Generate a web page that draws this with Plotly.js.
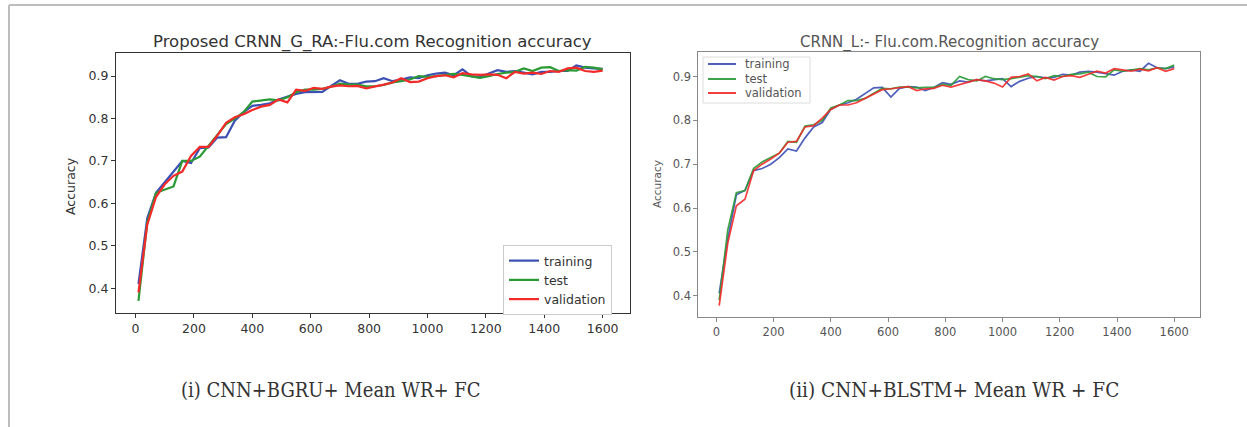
<!DOCTYPE html>
<html>
<head>
<meta charset="utf-8">
<script src="https://cdn.plot.ly/plotly-3.0.1.min.js"></script>
<style>html,body{margin:0;padding:0;background:#fff;}#chart{width:1247px;height:427px;}</style>
</head>
<body>
<div id="chart"></div>
<script>
// x positions (epochs)
const epochs = [10,40,70,100,130,160,190,220,250,280,310,340,370,400,430,460,490,520,550,580,610,640,670,700,730,760,790,820,850,880,910,940,970,1000,1030,1060,1090,1120,1150,1180,1210,1240,1270,1300,1330,1360,1390,1420,1450,1480,1510,1540,1570,1600];

// Left chart: Proposed CRNN_G_RA
const leftTraining = [0.41,0.565,0.625,0.65,0.675,0.70,0.695,0.73,0.732,0.755,0.756,0.795,0.815,0.83,0.832,0.836,0.845,0.852,0.858,0.862,0.862,0.863,0.877,0.89,0.882,0.882,0.887,0.888,0.895,0.888,0.892,0.897,0.895,0.902,0.906,0.908,0.902,0.916,0.90,0.897,0.906,0.914,0.91,0.912,0.908,0.904,0.91,0.91,0.912,0.912,0.925,0.92,0.918,0.917];
const leftTest = [0.37,0.555,0.625,0.632,0.64,0.70,0.70,0.71,0.735,0.76,0.787,0.80,0.815,0.84,0.843,0.845,0.843,0.85,0.862,0.868,0.868,0.87,0.875,0.882,0.88,0.88,0.876,0.876,0.879,0.885,0.888,0.892,0.90,0.898,0.90,0.902,0.905,0.903,0.90,0.896,0.90,0.905,0.908,0.91,0.918,0.912,0.92,0.921,0.912,0.914,0.913,0.922,0.92,0.916];
const leftValidation = [0.39,0.55,0.615,0.645,0.665,0.675,0.712,0.733,0.733,0.76,0.79,0.803,0.81,0.82,0.828,0.832,0.845,0.838,0.868,0.865,0.872,0.87,0.875,0.878,0.876,0.877,0.871,0.875,0.88,0.885,0.895,0.886,0.887,0.895,0.90,0.902,0.897,0.907,0.904,0.903,0.904,0.903,0.895,0.91,0.906,0.908,0.905,0.912,0.91,0.918,0.92,0.912,0.91,0.913];

// Right chart: CRNN_L
const rightTraining = [0.405,0.53,0.63,0.64,0.685,0.69,0.70,0.715,0.735,0.73,0.76,0.785,0.795,0.825,0.835,0.84,0.848,0.862,0.874,0.875,0.853,0.873,0.877,0.876,0.868,0.875,0.886,0.882,0.89,0.887,0.893,0.89,0.892,0.895,0.877,0.889,0.896,0.90,0.897,0.898,0.905,0.903,0.91,0.912,0.91,0.907,0.903,0.912,0.915,0.912,0.93,0.92,0.918,0.922];
const rightTest = [0.39,0.55,0.635,0.64,0.69,0.705,0.715,0.725,0.752,0.75,0.787,0.79,0.80,0.828,0.835,0.845,0.845,0.85,0.862,0.873,0.872,0.876,0.876,0.874,0.875,0.875,0.882,0.88,0.90,0.893,0.89,0.90,0.895,0.893,0.895,0.898,0.902,0.90,0.895,0.902,0.90,0.905,0.906,0.91,0.90,0.899,0.915,0.912,0.915,0.918,0.915,0.92,0.918,0.926];
const rightValidation = [0.377,0.52,0.605,0.62,0.685,0.70,0.712,0.725,0.75,0.752,0.785,0.788,0.805,0.825,0.835,0.835,0.84,0.85,0.86,0.87,0.872,0.875,0.877,0.868,0.872,0.873,0.88,0.876,0.882,0.887,0.893,0.89,0.885,0.876,0.898,0.90,0.906,0.89,0.898,0.892,0.90,0.902,0.898,0.905,0.912,0.908,0.918,0.915,0.912,0.917,0.913,0.92,0.912,0.918];

const seriesNames = ["training","test","validation"];
const xTicks = [0,200,400,600,800,1000,1200,1400,1600];
const yTicks = [0.4,0.5,0.6,0.7,0.8,0.9];
const leftTitle = "Proposed CRNN_G_RA:-Flu.com Recognition accuracy";
const rightTitle = "CRNN_L:- Flu.com.Recognition accuracy";
const leftCaption = "(i) CNN+BGRU+ Mean WR+ FC";
const rightCaption = "(ii) CNN+BLSTM+ Mean WR + FC";
const yLabel = "Accuracy";

const W = 1247, H = 427;
const px = v => v / W;
const py = v => 1 - v / H;

const colors = ["#3c4fb3", "#2a9a35", "#f22a2a"];
const leftData = [leftTraining, leftTest, leftValidation];
const rightData = [rightTraining, rightTest, rightValidation];

const traces = [];
leftData.forEach((d, i) => traces.push({
  x: epochs, y: d, type: "scatter", mode: "lines", name: seriesNames[i],
  line: {color: colors[i], width: 2.2}, xaxis: "x", yaxis: "y", legend: "legend"
}));
rightData.forEach((d, i) => traces.push({
  x: epochs, y: d, type: "scatter", mode: "lines", name: seriesNames[i], showlegend: false,
  line: {color: colors[i], width: 1.7}, opacity: 0.9, xaxis: "x2", yaxis: "y2"
}));

const axCommon = {showgrid: false, zeroline: false, showline: true, mirror: true, ticks: "outside", ticklen: 4, tickwidth: 1};

const annotations = [
  {text: leftTitle, xref: "paper", yref: "paper", x: px(372.7), y: py(42), xanchor: "center", yanchor: "middle", showarrow: false,
    font: {size: 16.5, color: "#333"}},
  {text: rightTitle, xref: "paper", yref: "paper", x: px(949), y: py(42), xanchor: "center", yanchor: "middle", showarrow: false,
    font: {size: 15, color: "#555"}},
  {text: yLabel, xref: "paper", yref: "paper", x: px(70), y: py(186), xanchor: "center", yanchor: "middle", textangle: -90, showarrow: false,
    font: {size: 12.5, color: "#333"}},
  {text: yLabel, xref: "paper", yref: "paper", x: px(657), y: py(184), xanchor: "center", yanchor: "middle", textangle: -90, showarrow: false,
    font: {size: 10.5, color: "#555"}},
  {text: leftCaption, xref: "paper", yref: "paper", x: px(331), y: py(390), xanchor: "center", yanchor: "middle", showarrow: false,
    font: {family: "DejaVu Serif Condensed, DejaVu Serif", size: 20, color: "#333"}},
  {text: rightCaption, xref: "paper", yref: "paper", x: px(954), y: py(390), xanchor: "center", yanchor: "middle", showarrow: false,
    font: {family: "DejaVu Serif Condensed, DejaVu Serif", size: 20.5, color: "#333"}}
];

const shapes = [
  {type: "line", xref: "paper", yref: "paper", x0: px(9), x1: 1, y0: py(5), y1: py(5), line: {color: "#bdbdbd", width: 2}},
  {type: "line", xref: "paper", yref: "paper", x0: px(9), x1: px(9), y0: py(5), y1: 0, line: {color: "#bdbdbd", width: 2}},
  // right legend frame
  {type: "rect", xref: "paper", yref: "paper", x0: px(703), x1: px(810), y0: py(103), y1: py(57),
    line: {color: "#dcdcdc", width: 1}, fillcolor: "#fff", layer: "above"}
];
// right legend entries (custom, to match the tight spacing)
const legend2Rows = [64, 79, 93];
seriesNames.forEach((n, i) => {
  shapes.push({type: "line", xref: "paper", yref: "paper", x0: px(708), x1: px(736), y0: py(legend2Rows[i]), y1: py(legend2Rows[i]),
    line: {color: colors[i], width: 1.8}, layer: "above"});
  annotations.push({text: n, xref: "paper", yref: "paper", x: px(743), y: py(legend2Rows[i]), xanchor: "left", yanchor: "middle",
    showarrow: false, font: {size: 11.5, color: "#555"}});
});

const layout = {
  width: W, height: H,
  margin: {l: 0, r: 0, t: 0, b: 0},
  paper_bgcolor: "#fff", plot_bgcolor: "#fff",
  font: {family: "DejaVu Sans", color: "#333"},
  showlegend: true,
  xaxis: Object.assign({}, axCommon, {domain: [px(116), px(629.5)], range: [-67, 1692], tickvals: xTicks,
    linecolor: "#333", tickcolor: "#333", tickfont: {size: 12.5, color: "#333"}, anchor: "y"}),
  yaxis: Object.assign({}, axCommon, {domain: [py(313.3), py(53.3)], range: [0.341, 0.9537], tickvals: yTicks, tickformat: ".1f",
    linecolor: "#333", tickcolor: "#333", tickfont: {size: 12.5, color: "#333"}, anchor: "x"}),
  xaxis2: Object.assign({}, axCommon, {domain: [px(698.3), px(1200)], range: [-63, 1690], tickvals: xTicks,
    linecolor: "#888", tickcolor: "#888", tickfont: {size: 11.5, color: "#555"}, anchor: "y2"}),
  yaxis2: Object.assign({}, axCommon, {domain: [py(316.7), py(51.7)], range: [0.352, 0.9566], tickvals: yTicks, tickformat: ".1f",
    linecolor: "#888", tickcolor: "#888", tickfont: {size: 11.5, color: "#555"}, anchor: "x2"}),
  legend: {x: px(503), y: py(245), xanchor: "left", yanchor: "top", bgcolor: "#fff", bordercolor: "#ccc", borderwidth: 1,
    font: {size: 12.5, color: "#333"}, tracegroupgap: 0, itemwidth: 30},
  annotations: annotations,
  shapes: shapes
};

Plotly.newPlot("chart", traces, layout, {displayModeBar: false, staticPlot: true});
</script>
</body>
</html>
